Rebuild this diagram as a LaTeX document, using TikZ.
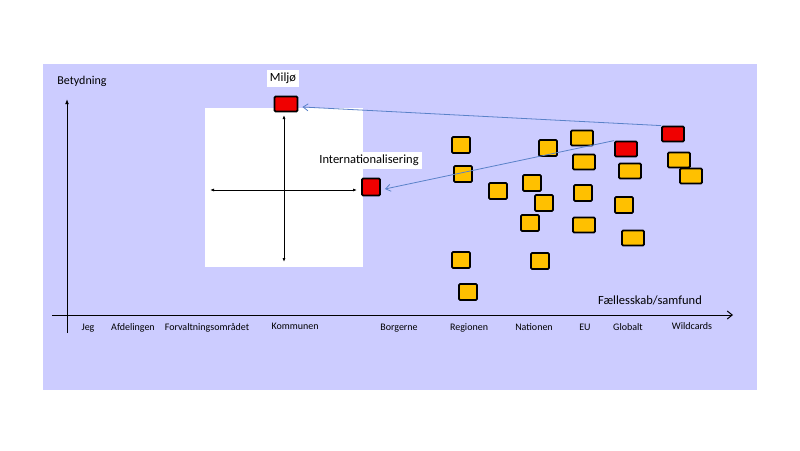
\documentclass[tikz,border=0pt]{standalone}
\usepackage{fontspec}
\setmainfont{Carlito}
\usetikzlibrary{arrows.meta}
\definecolor{bg}{RGB}{204,204,255}
\definecolor{card}{RGB}{255,192,0}
\definecolor{redcard}{RGB}{240,0,0}
\definecolor{link}{RGB}{90,130,200}
\tikzset{
  card/.style={draw=black, fill=card, line width=1.8pt, rounded corners=1.2pt, minimum width=18pt, minimum height=16pt, inner sep=0pt},
  wide/.style={minimum width=22pt, minimum height=15pt},
  hot/.style={fill=redcard},
  axislbl/.style={font=\fontsize{10}{12}\selectfont, anchor=base},
  tag/.style={fill=white, font=\fontsize{12.5}{14}\selectfont, inner xsep=3pt, inner ysep=2.5pt, text height=9pt, text depth=3pt},
  linkarrow/.style={draw=link, line width=0.8pt, -{Straight Barb[length=5pt,width=7pt]}},
  axis/.style={draw=black, line width=1pt},
}
\begin{document}
\begin{tikzpicture}[x=1pt,y=-1pt]
\useasboundingbox (0,0) rectangle (800,450);
\fill[bg] (43,64) rectangle (757,390);
% white quadrant box
\fill[white] (205,108) rectangle (363,267);
\draw[axis, {Latex[length=4pt]}-{Latex[length=4pt]}] (210,190) -- (357,190);
\draw[axis, {Latex[length=4pt]}-{Latex[length=4pt]}] (284,115) -- (284,262);
% main axes
\node[font=\fontsize{12}{14}\selectfont] (ylabel) at (82,81) {Betydning};
\coordinate (ybot) at (67,333);
\coordinate (ytop) at (67,99);
\draw[axis, -{Latex[length=5pt]}] (ybot) -- (ytop);
\coordinate (xleft) at (52,315);
\coordinate (xright) at (733,315);
\draw[axis, -{Straight Barb[length=5pt,width=8pt]}] (xleft) -- (xright);
\node[font=\fontsize{12.5}{14}\selectfont] (xlabel) at (650,300) {Fællesskab/samfund};
% axis category labels
\node[axislbl] (l1) at (88,330) {Jeg};
\node[axislbl] (l2) at (133,330) {Afdelingen};
\node[axislbl] (l3) at (207,330) {Forvaltningsområdet};
\node[axislbl] (l4) at (295,329) {Kommunen};
\node[axislbl] (l5) at (399,330) {Borgerne};
\node[axislbl] (l6) at (469,330) {Regionen};
\node[axislbl] (l7) at (534,330) {Nationen};
\node[axislbl] (l8) at (585,330) {EU};
\node[axislbl] (l9) at (628,330) {Globalt};
\node[axislbl] (l10) at (692,329) {Wildcards};
% labels with white boxes
\node[tag] (tmil) at (283,78) {Miljø};
\node[tag] (tint) at (369,160) {Internationalisering};
% red cards (selected)
\node[card, hot, minimum width=23pt, minimum height=15pt] (mil) at (286,104) {};
\node[card, hot, minimum width=18pt, minimum height=17pt] (int) at (371,187) {};
% cards
\node[card] (s1) at (461,145) {};
\node[card] (s2) at (463,174) {};
\node[card] (s3) at (498,191) {};
\node[card] (s4) at (532,183) {};
\node[card] (s5) at (544,203) {};
\node[card] (s6) at (530,223) {};
\node[card] (s7) at (548,148) {};
\node[card, wide] (s8) at (582,138) {};
\node[card, wide] (s9) at (584,162) {};
\node[card] (s10) at (583,193) {};
\node[card, wide] (s11) at (584,225) {};
\node[card] (s12) at (461,260) {};
\node[card] (s13) at (468,292) {};
\node[card] (s14) at (540,261) {};
\node[card, wide, hot] (s15) at (626,149) {};
\node[card, wide] (s16) at (630,171) {};
\node[card] (s17) at (624,205) {};
\node[card, wide] (s18) at (633,238) {};
\node[card, wide, hot] (s19) at (673,134) {};
\node[card, wide] (s20) at (679,160) {};
\node[card, wide] (s21) at (691,176) {};
% links
\draw[linkarrow] (s19.north west) -- ([xshift=4pt,yshift=-3pt]mil.east);
\draw[linkarrow] (s15.north west) -- ([xshift=4pt,yshift=-2pt]int.east);
\end{tikzpicture}
\end{document}
